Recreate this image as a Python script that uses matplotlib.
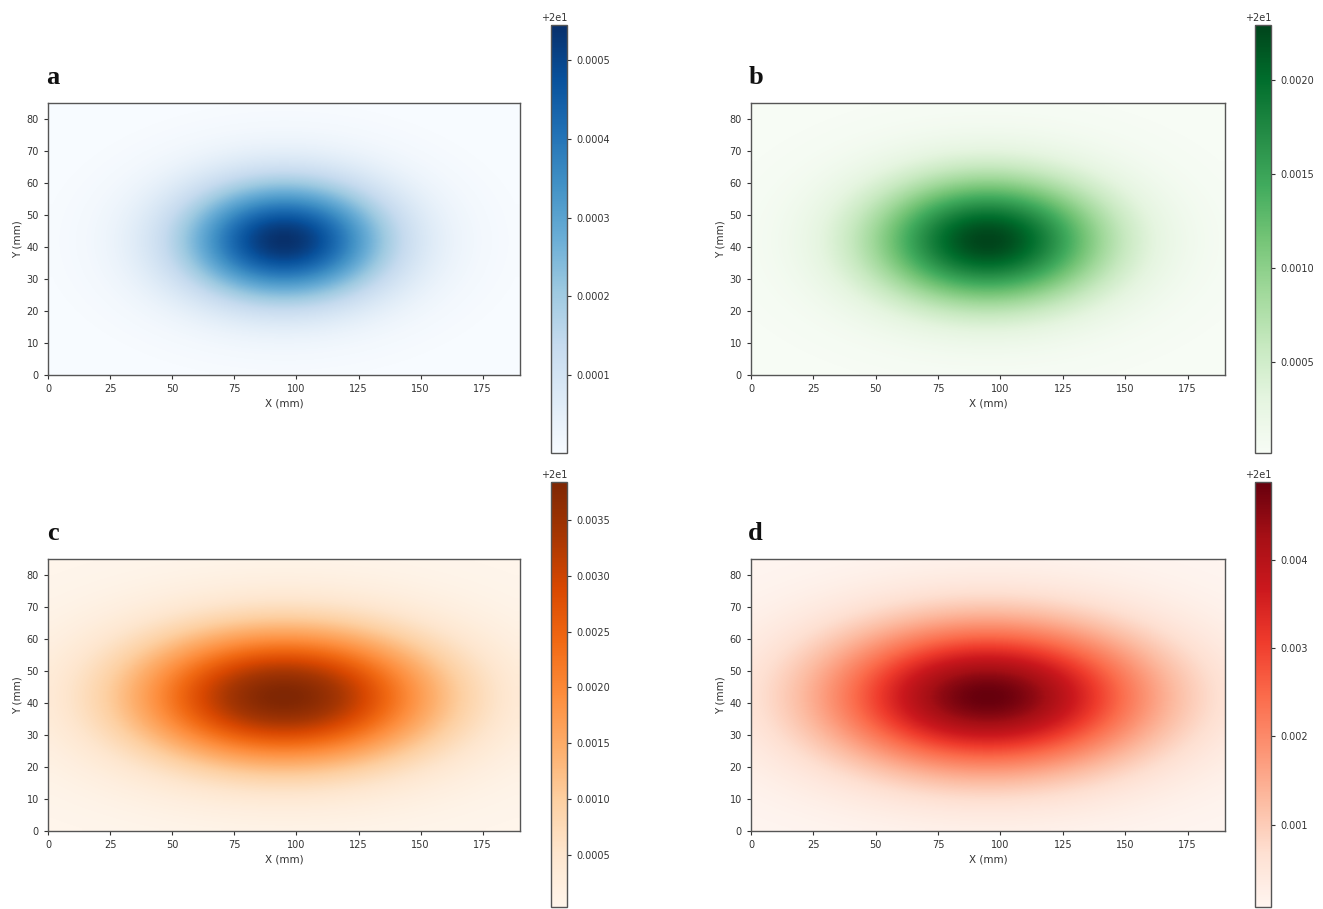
import numpy as np
import matplotlib
matplotlib.use("Agg")
import matplotlib.pyplot as plt

# ---------------- data ----------------
panel_labels = ["a", "b", "c", "d"]
cmap_names = ["Blues", "Greens", "Oranges", "Reds"]
base_temp = 20.0                                   # colorbar offset "+2e1"
peak_rise = [0.000545, 0.00229, 0.00384, 0.00488]  # colorbar top values (above 20)
floor_rise = [0.0000005, 0.000016, 0.000034, 0.00007]  # colorbar bottom values
center_x = [95.0, 95.0, 95.0, 95.0]                # hotspot centre, mm
center_y = [42.0, 42.0, 42.0, 42.0]
spread_x = [29.0, 33.0, 43.0, 45.0]                # hotspot spread, mm
spread_y = [13.0, 14.0, 15.0, 16.0]
plate_x_mm = 190.0
plate_y_mm = 85.0
n_cells = 50
x_ticks = [0, 25, 50, 75, 100, 125, 150, 175]
y_ticks = [0, 10, 20, 30, 40, 50, 60, 70, 80]
cbar_ticks = [
    [0.0001, 0.0002, 0.0003, 0.0004, 0.0005],
    [0.0005, 0.0010, 0.0015, 0.0020],
    [0.0005, 0.0010, 0.0015, 0.0020, 0.0025, 0.0030, 0.0035],
    [0.001, 0.002, 0.003, 0.004],
]

# ---------------- figure ----------------
W, H = 1323, 909
fig = plt.figure(figsize=(W / 100, H / 100), dpi=100)
plt.rcParams["font.family"] = ["DejaVu Sans"]


def rect(l, r, t, b):
    return [l / W, 1 - b / H, (r - l) / W, (b - t) / H]


axes_px = [(48, 520, 103, 375), (751, 1225, 103, 375),
           (48, 520, 559, 831), (751, 1225, 559, 831)]
cbar_px = [(551, 567, 25, 453), (1255, 1271, 25, 453),
           (551, 567, 482, 907), (1255, 1271, 482, 907)]

xc = (np.arange(n_cells) + 0.5) * plate_x_mm / n_cells
yc = (np.arange(n_cells) + 0.5) * plate_y_mm / n_cells
XX, YY = np.meshgrid(xc, yc)

spine_col = "#555555"
for i in range(4):
    ax = fig.add_axes(rect(*axes_px[i]))
    cax = fig.add_axes(rect(*cbar_px[i]))
    shape = np.exp(-0.5 * (((XX - center_x[i]) / spread_x[i]) ** 2
                           + ((YY - center_y[i]) / spread_y[i]) ** 2))
    field = base_temp + floor_rise[i] + (peak_rise[i] - floor_rise[i]) * shape
    im = ax.imshow(field, cmap=cmap_names[i], origin="lower",
                   extent=[0, plate_x_mm, 0, plate_y_mm], aspect="auto",
                   interpolation="bilinear",
                   vmin=base_temp + floor_rise[i], vmax=base_temp + peak_rise[i])
    ax.set_xlim(0, plate_x_mm)
    ax.set_ylim(0, plate_y_mm)
    ax.set_xticks(x_ticks)
    ax.set_yticks(y_ticks)
    ax.tick_params(labelsize=7, colors="#333333", length=3, width=0.8)
    ax.set_xlabel("X (mm)", fontsize=7.5, color="#333333", labelpad=3)
    ax.set_ylabel("Y (mm)", fontsize=7.5, color="#333333", labelpad=3)
    for s in ax.spines.values():
        s.set_color(spine_col)
        s.set_linewidth(1.0)
    ax.text(0.01, 1.095, panel_labels[i], transform=ax.transAxes,
            ha="center", va="center", fontsize=19, fontweight="bold",
            family="Liberation Serif", color="#111111")

    cb = fig.colorbar(im, cax=cax)
    cb.set_ticks([base_temp + t for t in cbar_ticks[i]])
    cb.ax.tick_params(labelsize=7, colors="#333333", length=3, width=0.8)
    cb.ax.yaxis.get_offset_text().set_fontsize(7)
    cb.ax.yaxis.get_offset_text().set_color("#333333")
    cb.outline.set_edgecolor(spine_col)
    cb.outline.set_linewidth(1.0)

fig.savefig("out.png", dpi=100)
